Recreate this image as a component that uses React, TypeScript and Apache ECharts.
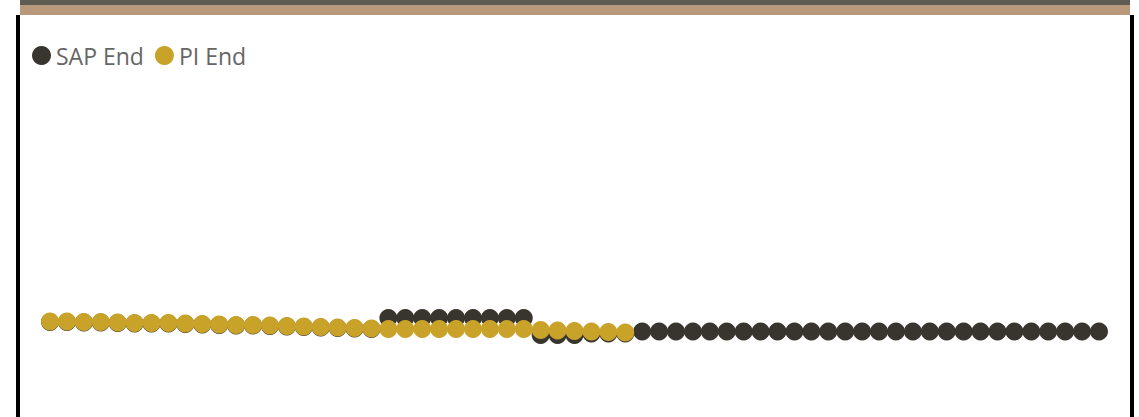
import React, { useEffect, useRef } from "react";
import * as echarts from "echarts";

const categories: string[] = Array.from({ length: 63 }, (_, i) => String(i + 1));

const sapEnd: (number | null)[] = [
  95, 95, 94.5, 94.5, 94, 93.5, 93.5, 93.5, 93, 92.5,
  92, 91.5, 91.5, 91, 90.5, 90, 89.5, 89, 88.5, 88,
  99, 99, 99, 99, 99, 99, 99, 99, 99,
  82, 82, 82,
  83.5, 83.5, 83.5,
  85.5, 85.5, 85.5, 85.5, 85.5, 85.5, 85.5, 85.5, 85.5, 85.5,
  85.5, 85.5, 85.5, 85.5, 85.5, 85.5, 85.5, 85.5, 85.5, 85.5,
  85.5, 85.5, 85.5, 85.5, 85.5, 85.5, 85.5, 85.5,
];

const piEnd: (number | null)[] = [
  95.5, 95.5, 95, 95, 94.5, 94, 94, 94, 93.5, 93,
  92.5, 92, 92, 91.5, 91, 90.5, 90, 89.5, 89, 88.5,
  88, 88, 88, 88, 88, 88, 88, 88, 88,
  87, 86.5, 86, 85.5, 85, 84.5,
];

const seriesNames = ["SAP End", "PI End"];
const seriesColors = ["#38342E", "#C9A22A"];

export default function App() {
  const ref = useRef<HTMLDivElement>(null);

  useEffect(() => {
    if (!ref.current) return;
    const chart = echarts.init(ref.current, null, { renderer: "svg" });
    chart.setOption({
      animation: false,
      backgroundColor: "transparent",
      legend: {
        left: 27,
        top: 39,
        icon: "circle",
        itemWidth: 19,
        itemHeight: 19,
        itemGap: 11,
        textStyle: {
          fontSize: 23,
          color: "#666666",
          fontFamily: "'Segoe UI', 'Open Sans', sans-serif",
        },
        data: seriesNames,
      },
      grid: { left: 50, right: 40, top: 17, bottom: 0 },
      xAxis: {
        type: "category",
        data: categories,
        boundaryGap: false,
        show: false,
      },
      yAxis: { type: "value", min: 0, max: 400, show: false },
      series: [
        {
          name: seriesNames[0],
          type: "scatter",
          data: sapEnd,
          symbolSize: 18,
          itemStyle: { color: seriesColors[0], opacity: 1 },
        },
        {
          name: seriesNames[1],
          type: "scatter",
          data: piEnd,
          symbolSize: 18,
          itemStyle: { color: seriesColors[1], opacity: 1 },
        },
      ],
    });
    return () => chart.dispose();
  }, []);

  return (
    <div
      style={{
        position: "fixed",
        left: 0,
        top: 0,
        width: 1139,
        height: 417,
        background: "#ffffff",
        overflow: "hidden",
      }}
    >
      <div style={{ position: "absolute", left: 20, top: 0, width: 1110, height: 5, background: "#5E5B53" }} />
      <div style={{ position: "absolute", left: 20, top: 5, width: 1110, height: 10, background: "#B9997B" }} />
      <div style={{ position: "absolute", left: 16, top: 15, width: 4, height: 402, background: "#000000" }} />
      <div style={{ position: "absolute", left: 1130, top: 15, width: 4, height: 402, background: "#000000" }} />
      <div ref={ref} style={{ position: "absolute", left: 0, top: 0, width: 1139, height: 417 }} />
    </div>
  );
}
